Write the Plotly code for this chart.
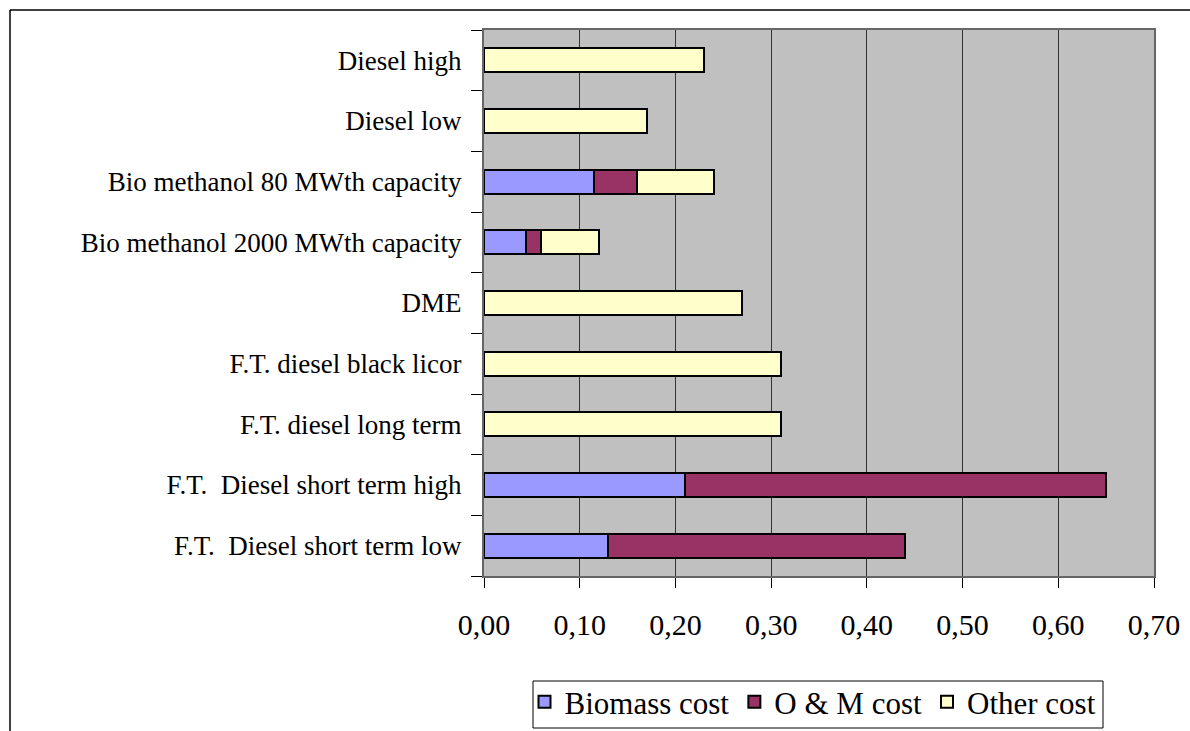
import plotly.graph_objects as go

# Fuel production pathways (listed bottom to top as they appear on the axis)
categories = [
    "F.T.\u00a0 Diesel short term low",
    "F.T.\u00a0 Diesel short term high",
    "F.T. diesel long term",
    "F.T. diesel black licor",
    "DME",
    "Bio methanol 2000 MWth capacity",
    "Bio methanol 80 MWth capacity",
    "Diesel low",
    "Diesel high",
]

# Cost components (stacked)
biomass_cost = [0.13, 0.21, None, None, None, 0.044, 0.115, None, None]
om_cost = [0.31, 0.44, None, None, None, 0.016, 0.045, None, None]
other_cost = [None, None, 0.31, 0.31, 0.27, 0.06, 0.08, 0.17, 0.23]

x_ticks = [0.0, 0.1, 0.2, 0.3, 0.4, 0.5, 0.6, 0.7]
x_tick_labels = ["0,00", "0,10", "0,20", "0,30", "0,40", "0,50", "0,60", "0,70"]

FONT = "Liberation Serif, Times New Roman, serif"

series = [
    ("Biomass cost", biomass_cost, "#9999FF"),
    ("O & M cost", om_cost, "#993366"),
    ("Other cost", other_cost, "#FFFFCC"),
]

fig = go.Figure()
for name, vals, color in series:
    fig.add_trace(go.Bar(
        name=name,
        y=categories,
        x=vals,
        orientation="h",
        width=0.4,
        marker=dict(color=color, line=dict(color="black", width=2)),
    ))

W, H = 1190, 731
L, R, T, B = 484, 36, 30, 155
pw, ph = W - L - R, H - T - B

def px_to_paper(px, py):
    return (px - L) / pw, (H - B - py) / ph

# outer chart frame (top and left edges)
x0, y0 = px_to_paper(10, 10)
x1, y1 = px_to_paper(W + 5, H + 5)
# legend position and its frame
leg_x, leg_y = px_to_paper(813, 702)
bx0, by0 = px_to_paper(533, 681)
bx1, by1 = px_to_paper(1103, 728)

fig.update_layout(
    width=W, height=H,
    margin=dict(l=L, r=R, t=T, b=B, pad=0, autoexpand=False),
    barmode="stack",
    paper_bgcolor="white",
    plot_bgcolor="#C0C0C0",
    font=dict(family=FONT, color="black"),
    showlegend=True,
    legend=dict(
        orientation="h",
        x=leg_x, xanchor="center",
        y=leg_y, yanchor="middle",
        font=dict(family=FONT, size=31, color="black"),
        borderwidth=0,
        bgcolor="rgba(0,0,0,0)",
        itemclick=False,
        traceorder="normal",
    ),
    xaxis=dict(
        range=[0, 0.7],
        tickvals=x_ticks,
        ticktext=x_tick_labels,
        tickfont=dict(family=FONT, size=30, color="black"),
        ticks="outside", ticklen=10, tickcolor="black", tickwidth=1,
        showgrid=True, gridcolor="#333333", gridwidth=1,
        showline=True, linecolor="#666666", linewidth=2, mirror=True,
        zeroline=False,
        ticklabelstandoff=11,
    ),
    yaxis=dict(
        tickfont=dict(family=FONT, size=27, color="black"),
        tickson="boundaries",
        ticks="outside", ticklen=11, tickcolor="black", tickwidth=1,
        showgrid=False,
        showline=True, linecolor="#666666", linewidth=2, mirror=True,
        ticklabelstandoff=15,
    ),
    shapes=[
        dict(type="line", xref="paper", yref="paper", x0=x0, y0=y0, x1=x1, y1=y0,
             line=dict(color="black", width=1.5)),
        dict(type="line", xref="paper", yref="paper", x0=x0, y0=y0, x1=x0, y1=y1,
             line=dict(color="black", width=1.5)),
        dict(type="rect", xref="paper", yref="paper", x0=bx0, y0=by0, x1=bx1, y1=by1,
             line=dict(color="black", width=1), fillcolor="white", layer="below"),
    ],
)

fig.write_html("out.html")
